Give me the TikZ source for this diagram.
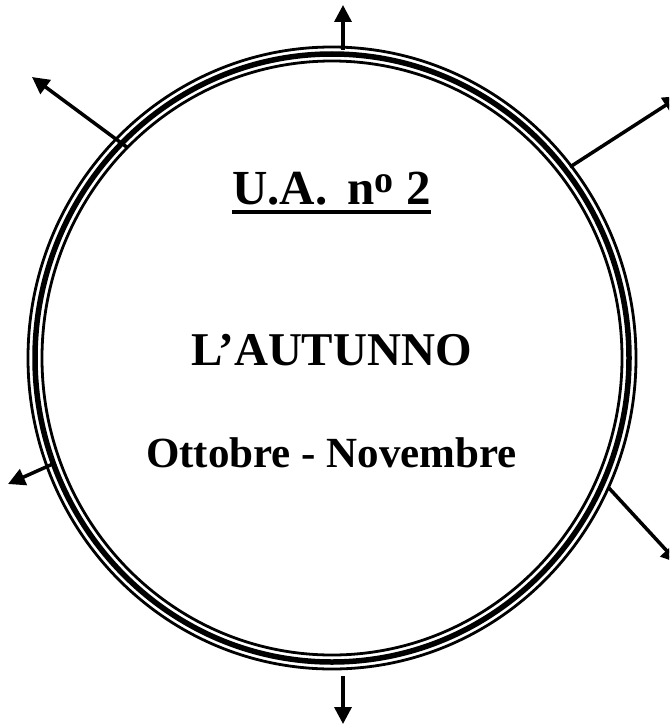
\documentclass[tikz,border=0pt]{standalone}
\usepackage{fontspec}
\setmainfont{Liberation Serif}
\usetikzlibrary{arrows.meta}
\tikzset{
  ring/.style={draw=black},
  arr/.style={line width=3.5pt,-{Triangle[length=17pt,width=17pt]}},
  title/.style={inner sep=0pt,anchor=base,font=\bfseries}
}
\begin{document}
\begin{tikzpicture}[x=1pt,y=-1pt]
\useasboundingbox (0,0) rectangle (669,725);
\clip (0,0) rectangle (669,725);
% triple ring
\draw[ring,line width=5.5pt] (332,358) ellipse [x radius=297,y radius=304];
\draw[ring,line width=2.8pt] (332,358) ellipse [x radius=304,y radius=311];
\draw[ring,line width=2.8pt] (332,358) ellipse [x radius=290,y radius=297];
% arrow ends
\coordinate (s1) at (343,50);  \coordinate (e1) at (343,5);
\coordinate (s2) at (128,148); \coordinate (e2) at (32,77);
\coordinate (s3) at (570,167); \coordinate (e3) at (680,96);
\coordinate (s4) at (55,463);  \coordinate (e4) at (8,484);
\coordinate (s5) at (608,487); \coordinate (e5) at (678,563);
\coordinate (s6) at (343,676); \coordinate (e6) at (343,724);
\draw[arr] (s1) -- (e1);
\draw[arr] (s2) -- (e2);
\draw[arr] (s3) -- (e3);
\draw[arr] (s4) -- (e4);
\draw[arr] (s5) -- (e5);
\draw[arr] (s6) -- (e6);
% texts
\node[title] (ua) at (331.5,204) {\fontsize{49}{56}\selectfont U.A.\hspace{20pt}n\raisebox{12pt}{\fontsize{38}{40}\selectfont o} 2};
\draw[line width=4pt] ([yshift=-8pt]ua.base west) -- ([yshift=-8pt]ua.base east);
\node[title] (aut) at (331.5,365) {\fontsize{47}{56}\selectfont L’AUTUNNO};
\node[title] (mesi) at (331.5,467) {\fontsize{43}{50}\selectfont Ottobre - Novembre};
\end{tikzpicture}
\end{document}
